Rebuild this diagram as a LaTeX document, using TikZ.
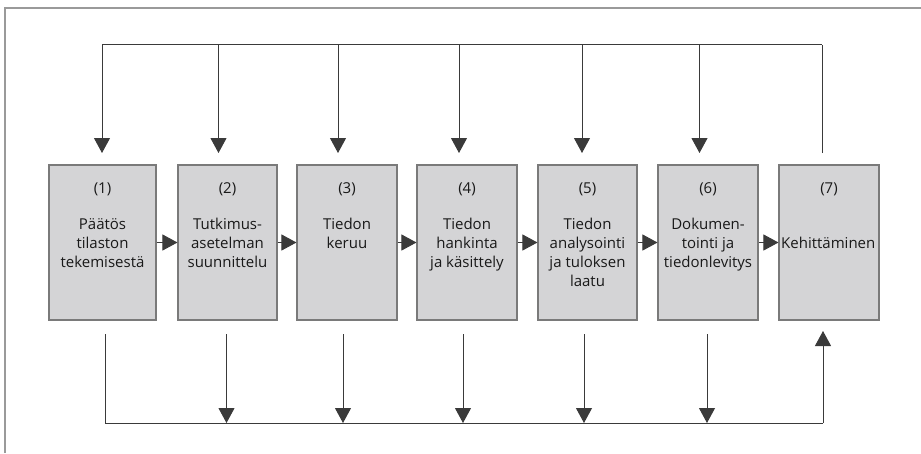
\documentclass[tikz,border=0pt]{standalone}
\usepackage{fontspec}
\setmainfont{Open Sans}
\usetikzlibrary{arrows.meta}
\definecolor{boxfill}{HTML}{D4D4D6}
\definecolor{boxline}{HTML}{7A7A7A}
\definecolor{conn}{HTML}{3A3A3A}
\definecolor{frame}{HTML}{9A9A9A}
\tikzset{
  stage/.style={draw=boxline, line width=1.1pt, fill=boxfill, minimum height=155pt, inner sep=0pt},
  numtxt/.style={font=\fontsize{15pt}{19pt}\selectfont, text=black!90, inner sep=0pt},
  bodytxt/.style={font=\fontsize{15pt}{19pt}\selectfont, text=black!90, align=center, inner sep=0pt, anchor=north},
  conline/.style={draw=conn, line width=1pt},
  arr/.style={conline, -{Triangle[length=15pt,width=16pt]}},
}
\begin{document}
\begin{tikzpicture}[x=1pt,y=-1pt]
\useasboundingbox (0,0) rectangle (921,453);
% frame
\draw[frame, line width=1.5pt] (5,453) -- (5,8) -- (921,8);
% boxes
\node[stage, minimum width=107pt] (b1) at (102.5,242.5) {};
\node[stage, minimum width=99pt] (b2) at (227.5,242.5) {};
\node[stage, minimum width=100pt] (b3) at (347,242.5) {};
\node[stage, minimum width=100pt] (b4) at (467,242.5) {};
\node[stage, minimum width=99pt] (b5) at (587.5,242.5) {};
\node[stage, minimum width=100pt] (b6) at (708,242.5) {};
\node[stage, minimum width=100pt] (b7) at (829,242.5) {};
% numbers
\node[numtxt] (n1) at (102.5,189) {(1)};
\node[numtxt] (n2) at (227.5,189) {(2)};
\node[numtxt] (n3) at (347,189) {(3)};
\node[numtxt] (n4) at (467,189) {(4)};
\node[numtxt] (n5) at (587.5,189) {(5)};
\node[numtxt] (n6) at (708,189) {(6)};
\node[numtxt] (n7) at (829,189) {(7)};
% labels
\node[bodytxt] (l1) at (102.5,218) {Päätös\\tilaston\\tekemisestä};
\node[bodytxt] (l2) at (227.5,218) {Tutkimus-\\asetelman\\suunnittelu};
\node[bodytxt] (l3) at (347,218) {Tiedon\\keruu};
\node[bodytxt] (l4) at (467,218) {Tiedon\\hankinta\\ja käsittely};
\node[bodytxt] (l5) at (587.5,218) {Tiedon\\analysointi\\ja tuloksen\\laatu};
\node[bodytxt] (l6) at (708,218) {Dokumen-\\tointi ja\\tiedonlevitys};
\node[numtxt, anchor=west] (l7) at (781,243) {Kehittäminen};
% horizontal arrows
\draw[arr] (b1.east) -- (b2.west);
\draw[arr] (b2.east) -- (b3.west);
\draw[arr] (b3.east) -- (b4.west);
\draw[arr] (b4.east) -- (b5.west);
\draw[arr] (b5.east) -- (b6.west);
\draw[arr] (b6.east) -- (b7.west);
% top feedback
\coordinate (t1) at (102,44.5);
\coordinate (t2) at (218.5,44.5);
\coordinate (t3) at (338,44.5);
\coordinate (t4) at (459,44.5);
\coordinate (t5) at (582,44.5);
\coordinate (t6) at (699.5,44.5);
\coordinate (t7) at (822,44.5);
\coordinate (a1) at (102,153);
\coordinate (a2) at (218.5,153);
\coordinate (a3) at (338,153);
\coordinate (a4) at (459,153);
\coordinate (a5) at (582,153);
\coordinate (a6) at (699.5,153);
\coordinate (a7) at (822,153);
\draw[conline] (t1) -- (t7);
\draw[conline] (a7) -- (t7);
\foreach \i in {1,...,6} {\draw[arr] (t\i) -- (a\i);}
% bottom feedback
\coordinate (s1) at (105,334);
\coordinate (s2) at (226.5,334);
\coordinate (s3) at (343,334);
\coordinate (s4) at (463,334);
\coordinate (s5) at (584,334);
\coordinate (s6) at (707,334);
\coordinate (u1) at (105,423);
\coordinate (u2) at (226.5,423);
\coordinate (u3) at (343,423);
\coordinate (u4) at (463,423);
\coordinate (u5) at (584,423);
\coordinate (u6) at (707,423);
\coordinate (u7) at (823,423);
\coordinate (s7) at (823,331);
\draw[conline] (s1) -- (u1) -- (u7);
\foreach \i in {2,...,6} {\draw[arr] (s\i) -- (u\i);}
\draw[arr] (u7) -- (s7);
\end{tikzpicture}
\end{document}
